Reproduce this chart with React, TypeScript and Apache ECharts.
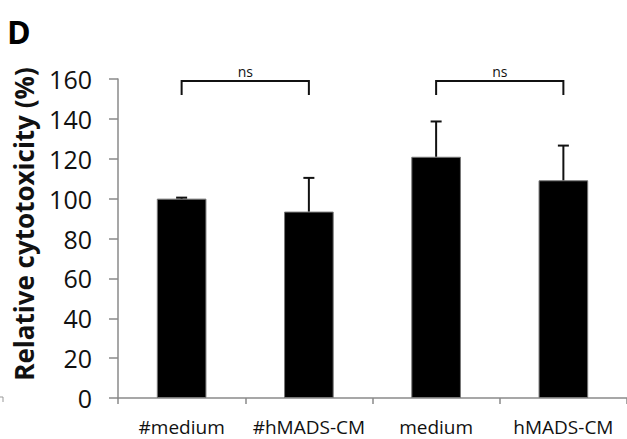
import React, { useEffect, useRef } from "react";
import * as echarts from "echarts";

const categories = ["#medium", "#hMADS-CM", "medium", "hMADS-CM"];
const means = [100, 93.5, 121, 109.2];
const errors = [0.5, 16.9, 17.7, 17.4];
const yTicks = { min: 0, max: 160, interval: 20 };
const brackets = [
  { from: 0, to: 1, label: "ns" },
  { from: 2, to: 3, label: "ns" },
];
const bracketHigh = 159;
const bracketLow = 152;

export default function App() {
  const ref = useRef<HTMLDivElement>(null);
  useEffect(() => {
    if (!ref.current) return;
    const chart = echarts.init(ref.current, null, { renderer: "svg" });
    const font = "'Open Sans', 'Noto Sans', sans-serif";
    chart.setOption({
      animation: false,
      grid: { left: 118, right: -3, top: 79, bottom: 41, containLabel: false },
      xAxis: {
        type: "category",
        data: categories,
        boundaryGap: true,
        axisLine: { lineStyle: { color: "#8a8a8a", width: 1.5 } },
        axisTick: { show: true, length: 6, interval: 0, lineStyle: { color: "#8a8a8a", width: 1.5 } },
        axisLabel: { color: "#111", fontSize: 19, fontFamily: font, margin: 19, interval: 0, hideOverlap: false },
        splitLine: { show: false },
      },
      yAxis: {
        type: "value",
        min: yTicks.min,
        max: yTicks.max,
        interval: yTicks.interval,
        axisLine: { show: true, lineStyle: { color: "#8a8a8a", width: 1.5 } },
        axisTick: { show: true, length: 9, lineStyle: { color: "#8a8a8a", width: 1.5 } },
        axisLabel: { color: "#111", fontSize: 25, fontFamily: font, margin: 26 },
        splitLine: { show: false },
      },
      series: [
        {
          type: "bar",
          data: means,
          barWidth: "39%",
          itemStyle: { color: "#000", borderColor: "#777", borderWidth: 1 },
          z: 2,
        },
        {
          type: "custom",
          data: means.map((m, i) => [i, m, errors[i]]),
          z: 3,
          renderItem: (params: any, api: any) => {
            const i = api.value(0);
            const m = api.value(1);
            const e = api.value(2);
            const p0 = api.coord([i, m]);
            const p1 = api.coord([i, m + e]);
            const cap = 5.5;
            return {
              type: "group",
              children: [
                { type: "line", shape: { x1: p0[0], y1: p0[1], x2: p1[0], y2: p1[1] }, style: { stroke: "#111", lineWidth: 2 } },
                { type: "line", shape: { x1: p1[0] - cap, y1: p1[1], x2: p1[0] + cap, y2: p1[1] }, style: { stroke: "#111", lineWidth: 2 } },
              ],
            };
          },
        },
        {
          type: "custom",
          data: brackets.map((b) => [b.from, b.to, bracketHigh, bracketLow]),
          z: 3,
          renderItem: (params: any, api: any) => {
            const a = api.value(0);
            const b = api.value(1);
            const hi = api.value(2);
            const lo = api.value(3);
            const pa0 = api.coord([a, lo]);
            const pa1 = api.coord([a, hi]);
            const pb1 = api.coord([b, hi]);
            const pb0 = api.coord([b, lo]);
            const label = brackets[params.dataIndex].label;
            return {
              type: "group",
              children: [
                {
                  type: "polyline",
                  shape: { points: [pa0, pa1, pb1, pb0] },
                  style: { stroke: "#111", lineWidth: 2, fill: null },
                },
                {
                  type: "text",
                  x: (pa1[0] + pb1[0]) / 2,
                  y: pa1[1] - 2,
                  style: {
                    text: label,
                    fill: "#111",
                    fontSize: 14,
                    fontFamily: font,
                    align: "center",
                    verticalAlign: "bottom",
                  },
                },
              ],
            };
          },
        },
      ],
      graphic: [
        {
          type: "text",
          left: 7,
          top: 15,
          style: { text: "D", fontSize: 32, fontWeight: "bold", fontFamily: font, fill: "#000" },
        },
        {
          type: "text",
          x: 24,
          y: 224,
          rotation: Math.PI / 2,
          style: {
            text: "Relative cytotoxicity (%)",
            fontSize: 26,
            fontWeight: "bold",
            fontFamily: font,
            fill: "#111",
            align: "center",
            verticalAlign: "middle",
          },
        },
        {
          type: "polyline",
          shape: { points: [[0, 397], [3, 397], [3, 402]] },
          style: { stroke: "#999", lineWidth: 1, fill: null },
        },
      ],
    });
    return () => chart.dispose();
  }, []);
  return (
    <div
      ref={ref}
      style={{ position: "fixed", left: 0, top: 0, width: 627, height: 439, background: "#fff" }}
    />
  );
}
